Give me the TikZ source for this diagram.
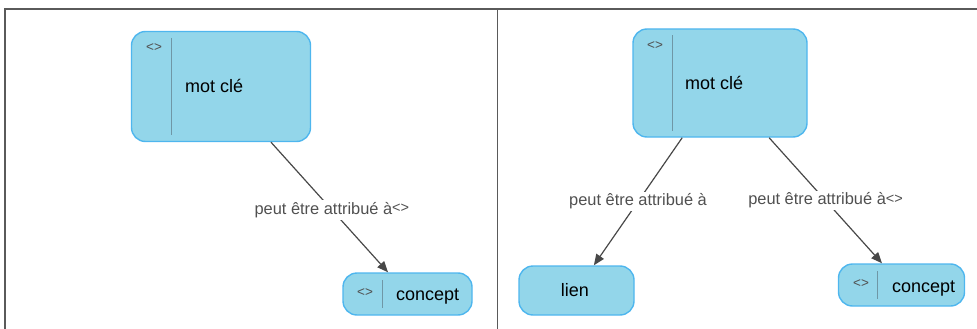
\documentclass[tikz,border=0pt]{standalone}
\usepackage{fontspec}
\setmainfont{Liberation Sans}
\usetikzlibrary{arrows.meta}
\usetikzlibrary{positioning}
\definecolor{boxfill}{HTML}{93D6EA}
\definecolor{boxline}{HTML}{4EB6EE}
\definecolor{sepgray}{HTML}{6F97A6}
\definecolor{linkgray}{HTML}{484848}
\definecolor{lblgray}{HTML}{505050}
\definecolor{framegray}{HTML}{5A5A5A}

\begin{document}
\begin{tikzpicture}[x=1pt, y=-1pt,
    entity/.style={draw=boxline, fill=boxfill, line width=1.4pt, rounded corners=14pt, inner sep=0pt},
    sepline/.style={draw=sepgray, line width=1.1pt},
    tag/.style={text=lblgray, font=\fontsize{13.5}{14}\selectfont, inner sep=0pt},
    entname/.style={text=black, font=\fontsize{18}{20}\selectfont, inner sep=0pt},
    link/.style={draw=linkgray, line width=1.2pt, -{Triangle[length=11pt,width=9pt]}},
    lbl/.style={fill=white, text=lblgray, font=\fontsize{16.4}{18}\selectfont, inner sep=2pt}]

    \useasboundingbox (0,0) rectangle (977,329);

    % frame
    \draw[framegray, line width=1.3pt] (5,329) -- (5,9) -- (977,9);
    \draw[framegray, line width=1pt] (497,9) -- (497,329);

    % left panel
    \node[entity, minimum width=179pt, minimum height=110pt] (kwA) at (221,86.5) {};
    \draw[sepline] ([xshift=41pt,yshift=-7pt]kwA.north west) -- ([xshift=41pt,yshift=7pt]kwA.south west);
    \node[tag] (kwAtag) at (154,48) {<>};
    \node[entname, anchor=base west] (kwAname) at (185,92.5) {mot clé};

    \node[entity, minimum width=129pt, minimum height=42pt] (conA) at (407.5,294) {};
    \draw[sepline] ([xshift=40pt,yshift=-8pt]conA.north west) -- ([xshift=40pt,yshift=8pt]conA.south west);
    \node[tag] (conAtag) at (365,293) {<>};
    \node[entname, anchor=base west] (conAname) at (396,300) {concept};

    \draw[link] (kwA) -- node[lbl, pos=0.52] {peut être attribué à{\fontsize{14.5}{15}\selectfont\raisebox{1.5pt}{<>}}} (conA);

    % right panel
    \node[entity, minimum width=174pt, minimum height=108pt] (kwB) at (720,83) {};
    \draw[sepline] ([xshift=40pt,yshift=-7pt]kwB.north west) -- ([xshift=40pt,yshift=7pt]kwB.south west);
    \node[tag] (kwBtag) at (655,46) {<>};
    \node[entname, anchor=base west] (kwBname) at (685,89.5) {mot clé};

    \node[entity, minimum width=115pt, minimum height=49pt] (lnk) at (576.5,290.5) {};
    \node[entname, anchor=base] (lnkname) at (575,296.5) {lien};

    \node[entity, minimum width=126pt, minimum height=42pt] (conB) at (901.5,285) {};
    \draw[sepline] ([xshift=40pt,yshift=-8pt]conB.north west) -- ([xshift=40pt,yshift=8pt]conB.south west);
    \node[tag] (conBtag) at (861,284) {<>};
    \node[entname, anchor=base west] (conBname) at (892,292) {concept};

    \draw[link] (kwB) -- node[lbl] {peut être attribué à} (lnk);
    \draw[link] (kwB) -- node[lbl] {peut être attribué à{\fontsize{14.5}{15}\selectfont\raisebox{1.5pt}{<>}}} (conB);

\end{tikzpicture}
\end{document}
